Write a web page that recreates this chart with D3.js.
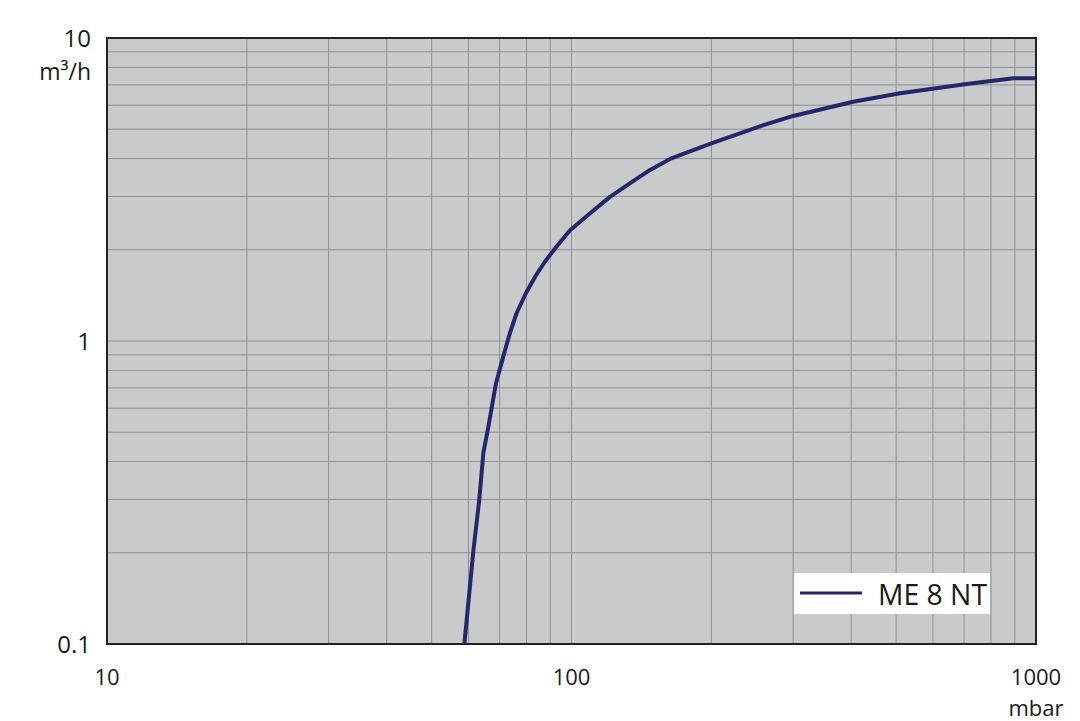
<!DOCTYPE html>
<html><head><meta charset="utf-8">
<script src="https://cdn.jsdelivr.net/npm/d3@7"></script>
<style>
html,body{margin:0;padding:0;background:#fff;}
text{font-family:"Open Sans","Noto Sans",sans-serif;fill:#1a1a1a;}
</style></head>
<body>
<svg id="c" width="1080" height="721"></svg>
<script>
// Data
const pressure = [58.8, 61.5, 63.3, 64.6, 66.2, 68.8, 71.3, 73.7, 76.2, 79.8, 83.5, 87.7, 92.9, 99.3, 110, 121, 135, 147.6, 163, 200, 259, 300, 404, 510, 709, 894, 1000];
const flow     = [0.1, 0.204, 0.299, 0.427, 0.52, 0.727, 0.888, 1.063, 1.237, 1.44, 1.63, 1.83, 2.05, 2.32, 2.65, 2.99, 3.35, 3.67, 3.99, 4.49, 5.16, 5.53, 6.16, 6.57, 7.05, 7.36, 7.37];
const seriesName = "ME 8 NT";
const xTickValues = [10, 100, 1000];
const xTickLabels = ["10", "100", "1000"];
const yTickValues = [0.1, 1, 10];
const yTickLabels = ["0.1", "1", "10"];
const xUnit = "mbar";
const yUnit = "m³/h";

const svg = d3.select("#c");
const L = 107, T = 38, R = 1036, B = 644;
const x = d3.scaleLog().domain([10, 1000]).range([L, R]);
const y = d3.scaleLog().domain([0.1, 10]).range([B, T]);

svg.append("rect").attr("x", L).attr("y", T).attr("width", R - L).attr("height", B - T).attr("fill", "#c9cacc");

// grid
const xGrid = [];
for (let d = 10; d < 1000; d *= 10) for (let k = 2; k <= 9; k++) xGrid.push(d * k);
const yGrid = [];
for (let d = 0.1; d < 9; d *= 10) for (let k = 2; k <= 9; k++) yGrid.push(+(d * k).toPrecision(3));
yGrid.push(1);
xGrid.push(100);

svg.append("g").selectAll("line").data(xGrid).join("line")
  .attr("x1", d => x(d)).attr("x2", d => x(d)).attr("y1", T).attr("y2", B)
  .attr("stroke", "#8f9092").attr("stroke-width", 1);
svg.append("g").selectAll("line").data(yGrid).join("line")
  .attr("y1", d => y(d)).attr("y2", d => y(d)).attr("x1", L).attr("x2", R)
  .attr("stroke", "#8f9092").attr("stroke-width", 1);

// curve
const pts = pressure.map((p, i) => [p, flow[i]]);
svg.append("path").datum(pts)
  .attr("d", d3.line().x(d => x(d[0])).y(d => y(d[1])))
  .attr("fill", "none").attr("stroke", "#26266a").attr("stroke-width", 4)
  .attr("stroke-linejoin", "round");

// frame
svg.append("rect").attr("x", L).attr("y", T).attr("width", R - L).attr("height", B - T)
  .attr("fill", "none").attr("stroke", "#222").attr("stroke-width", 2);

// y tick labels
svg.append("g").selectAll("text").data(yTickValues).join("text")
  .attr("x", 91).attr("y", d => y(d) + 9)
  .attr("text-anchor", "end").attr("font-size", 24)
  .text((d, i) => yTickLabels[i]);
svg.append("text").attr("x", 91).attr("y", 80).attr("text-anchor", "end").attr("font-size", 23).text(yUnit);

// x tick labels
svg.append("g").selectAll("text").data(xTickValues).join("text")
  .attr("x", d => x(d)).attr("y", 685)
  .attr("text-anchor", "middle").attr("font-size", 22)
  .text((d, i) => xTickLabels[i]);
svg.append("text").attr("x", x(1000)).attr("y", 716).attr("text-anchor", "middle").attr("font-size", 22).text(xUnit);

// legend
const lg = svg.append("g");
lg.append("rect").attr("x", 794).attr("y", 573).attr("width", 196).attr("height", 41).attr("fill", "#fff");
lg.append("line").attr("x1", 800).attr("x2", 862).attr("y1", 593).attr("y2", 593)
  .attr("stroke", "#26266a").attr("stroke-width", 3);
lg.append("text").attr("x", 878).attr("y", 605).attr("font-size", 30)
  .attr("textLength", 109).attr("lengthAdjust", "spacingAndGlyphs").text(seriesName);
</script>
</body></html>
